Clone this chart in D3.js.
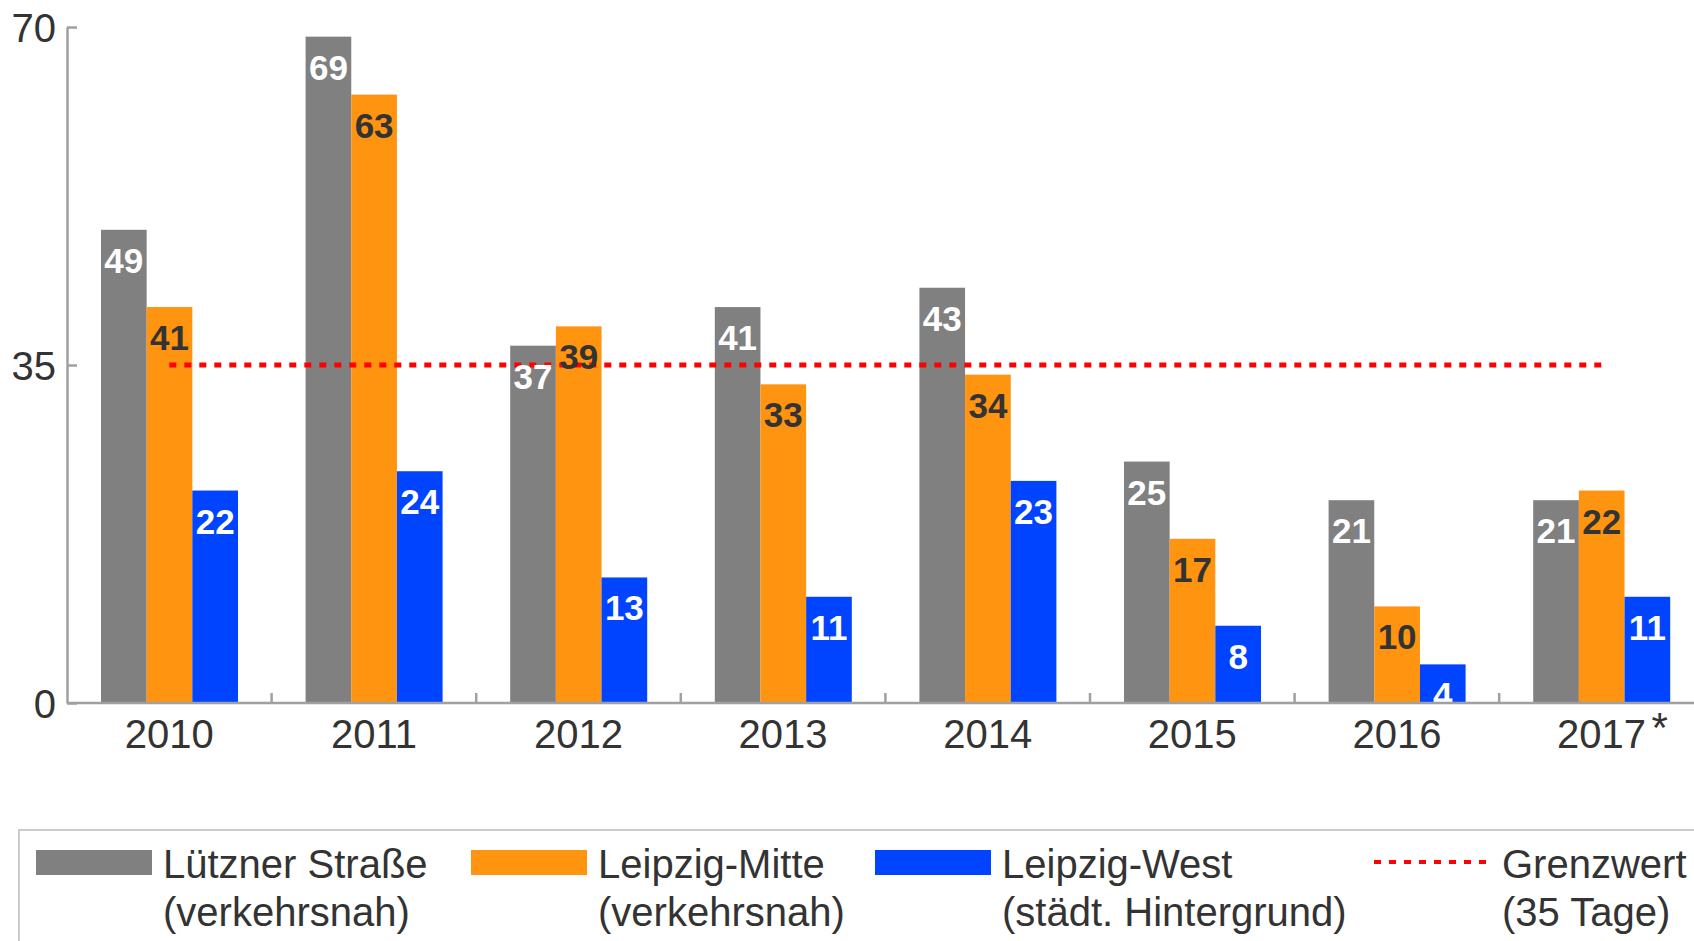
<!DOCTYPE html>
<meta charset="utf-8">
<script src="https://d3js.org/d3.v7.min.js"></script>
<style>
  body { margin: 0; background: #fff; }
  svg { display: block; font-family: "Liberation Sans", Arial, sans-serif; }
  .axis text { fill: #333; font-size: 40px; }
  .axis path, .axis line { stroke: #a0a0a0; stroke-width: 2.5; }
  .val { font-weight: bold; font-size: 35px; text-anchor: middle; }
  .leg { fill: #333; font-size: 40px; }
</style>
<body>
<svg id="chart" width="1694" height="941"></svg>
<script>
  // data
  var years = ["2010", "2011", "2012", "2013", "2014", "2015", "2016", "2017"];
  var luetzner = [49, 69, 37, 41, 43, 25, 21, 21];
  var mitte = [41, 63, 39, 33, 34, 17, 10, 22];
  var west = [22, 24, 13, 11, 23, 8, 4, 11];
  var grenzwert = 35;
  var yTicks = [0, 35, 70];

  var series = [
    { key: "luetzner", values: luetzner, color: "#808080", text: "#fff", label: ["Lützner Straße", "(verkehrsnah)"] },
    { key: "mitte", values: mitte, color: "#ff9410", text: "#333", label: ["Leipzig-Mitte", "(verkehrsnah)"] },
    { key: "west", values: west, color: "#0044ff", text: "#fff", label: ["Leipzig-West", "(städt. Hintergrund)"] }
  ];

  var svg = d3.select("#chart");
  var mLeft = 67, mBottom = 703, mTop = 27, band = 204.6;

  var x = d3.scaleBand().domain(years).range([mLeft, mLeft + band * years.length]);
  var x1 = d3.scaleBand().domain(series.map(function (s) { return s.key; }))
    .range([34, 34 + 137]);
  var y = d3.scaleLinear().domain([0, 70]).range([mBottom, mTop]);

  svg.append("clipPath").attr("id", "plotclip")
    .append("rect").attr("x", 0).attr("y", 0).attr("width", 1694).attr("height", mBottom);

  // bars
  var groups = svg.append("g").selectAll("g")
    .data(years).enter().append("g")
    .attr("transform", function (d) { return "translate(" + x(d) + ",0)"; });

  series.forEach(function (s) {
    groups.append("rect")
      .attr("x", x1(s.key))
      .attr("width", x1.bandwidth())
      .attr("y", function (d, i) { return y(s.values[i]); })
      .attr("height", function (d, i) { return mBottom - y(s.values[i]); })
      .attr("fill", s.color);
  });

  // limit line
  svg.append("line")
    .attr("x1", x(years[0]) + x.bandwidth() / 2)
    .attr("x2", x(years[years.length - 1]) + x.bandwidth() / 2)
    .attr("y1", y(grenzwert)).attr("y2", y(grenzwert))
    .attr("stroke", "#ff0000").attr("stroke-width", 5)
    .attr("stroke-dasharray", "7 8");

  // value labels
  var labels = svg.append("g").attr("clip-path", "url(#plotclip)");
  series.forEach(function (s) {
    labels.selectAll(null).data(years).enter().append("text")
      .attr("class", "val")
      .attr("x", function (d) { return x(d) + x1(s.key) + x1.bandwidth() / 2; })
      .attr("y", function (d, i) { return y(s.values[i]) + 43; })
      .attr("fill", s.text)
      .text(function (d, i) { return s.values[i]; });
  });

  // y axis
  var yAxis = svg.append("g").attr("class", "axis")
    .attr("transform", "translate(" + mLeft + ",0)")
    .call(d3.axisLeft(y).tickValues(yTicks).tickSize(-10).tickSizeOuter(0).tickPadding(11));
  yAxis.selectAll(".tick text").attr("dy", "0.36em");

  // x axis
  var xAxis = svg.append("g").attr("class", "axis")
    .attr("transform", "translate(0," + mBottom + ")")
    .call(d3.axisBottom(x).tickSize(0).tickSizeOuter(0).tickPadding(17));
  xAxis.select(".domain").attr("d", "M" + mLeft + ",0H1694");
  xAxis.selectAll(".tick text").attr("dy", "0.71em");
  xAxis.selectAll(".sep").data(years.slice(1)).enter().append("line")
    .attr("class", "sep")
    .attr("x1", function (d) { return x(d); }).attr("x2", function (d) { return x(d); })
    .attr("y1", 0).attr("y2", -10);
  // asterisk on last year
  var last = years[years.length - 1];
  svg.append("text").attr("class", "leg")
    .attr("x", x(last) + x.bandwidth() / 2 + 50).attr("y", 742)
    .style("font-size", "42px")
    .text("*");

  // legend
  var leg = svg.append("g");
  leg.append("rect").attr("x", 19).attr("y", 830).attr("width", 1700).attr("height", 200)
    .attr("fill", "none").attr("stroke", "#cccccc").attr("stroke-width", 2);

  var legX = [36, 471, 875];
  series.forEach(function (s, i) {
    leg.append("rect").attr("x", legX[i]).attr("y", 850).attr("width", 116).attr("height", 25)
      .attr("fill", s.color);
    s.label.forEach(function (t, j) {
      leg.append("text").attr("class", "leg")
        .attr("x", legX[i] + 127).attr("y", 878 + j * 48).text(t);
    });
  });
  leg.append("line").attr("x1", 1374).attr("x2", 1491).attr("y1", 862).attr("y2", 862)
    .attr("stroke", "#ff0000").attr("stroke-width", 4).attr("stroke-dasharray", "7 8");
  ["Grenzwert", "(35 Tage)"].forEach(function (t, j) {
    leg.append("text").attr("class", "leg").attr("x", 1502).attr("y", 878 + j * 48).text(t);
  });
</script>
</body>
